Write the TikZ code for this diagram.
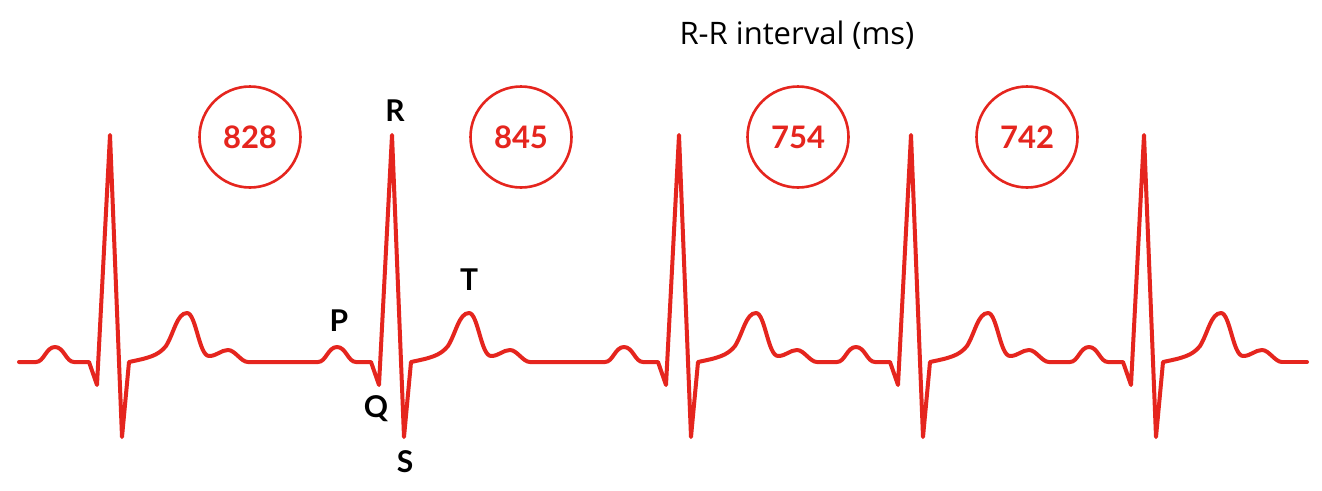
\documentclass[tikz,border=0pt]{standalone}
\usepackage{fontspec}
\setmainfont{Lato}
\newfontfamily\titlefont{Open Sans}
\definecolor{ecgred}{RGB}{229,37,30}
\begin{document}
\begin{tikzpicture}[x=1pt,y=-1pt,
  ecg/.style={draw=ecgred, line width=4pt, line join=round, line cap=round},
  rrcircle/.style={circle, draw=ecgred, line width=2.6pt, minimum size=101pt, inner sep=0pt, text=ecgred, font=\fontsize{31}{31}\selectfont\bfseries},
  wavelabel/.style={font=\fontsize{30}{30}\selectfont\bfseries, text=black, inner sep=0pt}]
\useasboundingbox (0,0) rectangle (1322,490);
\fill[white] (0,0) rectangle (1322,490);
% title
\node[anchor=base, inner sep=0pt, font=\titlefont\fontsize{31}{31}\selectfont] (title) at (797,44) {R-R interval (ms)};
% circles
\node[rrcircle] (c1) at (250,137) {828};
\node[rrcircle] (c2) at (521,137) {845};
\node[rrcircle] (c3) at (798,137) {754};
\node[rrcircle] (c4) at (1027,137) {742};
% waveform
\foreach \r/\s in {110/19, 392/248, 679/530, 911/817, 1144/1049} {
  \draw[ecg] (\s,362) -- ({\r-74},362)
    .. controls ({\r-66},362) and ({\r-64},347) .. ({\r-55},347)
    .. controls ({\r-46},347) and ({\r-44},362) .. ({\r-36},362)
    -- ({\r-21},362) -- ({\r-13},385) -- (\r,135) -- ({\r+12},437) -- ({\r+19},362)
    .. controls ({\r+38},358) and ({\r+48},356) .. ({\r+56},346)
    .. controls ({\r+64},333) and ({\r+67},313) .. ({\r+77},313)
    .. controls ({\r+86},313) and ({\r+89},356) .. ({\r+99},356)
    .. controls ({\r+107},356) and ({\r+111},350) .. ({\r+118},350)
    .. controls ({\r+125},350) and ({\r+131},362) .. ({\r+138},362);
}
\draw[ecg] (1282,362) -- (1307,362);
% labels
\node[wavelabel] (lR) at (395,111) {R};
\node[wavelabel] (lP) at (339,321) {P};
\node[wavelabel] (lT) at (469,280) {T};
\node[wavelabel] (lQ) at (376,409) {Q};
\node[wavelabel] (lS) at (405,462) {S};
\end{tikzpicture}
\end{document}
